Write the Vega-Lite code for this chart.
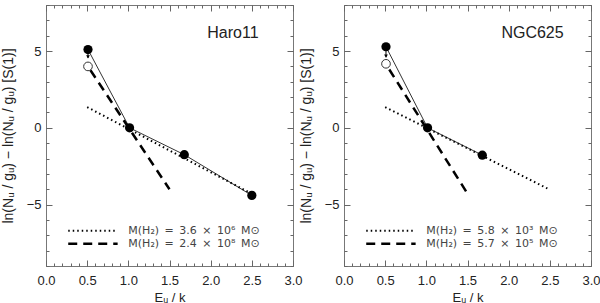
{
  "$schema": "https://vega.github.io/schema/vega-lite/v6.json",
  "padding": {"left": 0, "top": 4, "right": 0, "bottom": 0},
  "bounds": "flush",
  "spacing": 51,
  "datasets": {
    "pts": [
      {"g": "Haro11", "x": 0.51, "y": 5.1, "k": "filled"},
      {"g": "Haro11", "x": 1.015, "y": 0, "k": "filled"},
      {"g": "Haro11", "x": 1.68, "y": -1.75, "k": "filled"},
      {"g": "Haro11", "x": 2.5, "y": -4.4, "k": "filled"},
      {"g": "Haro11", "x": 0.51, "y": 4.0, "k": "open"},
      {"g": "NGC625", "x": 0.51, "y": 5.28, "k": "filled"},
      {"g": "NGC625", "x": 1.015, "y": 0, "k": "filled"},
      {"g": "NGC625", "x": 1.68, "y": -1.78, "k": "filled"},
      {"g": "NGC625", "x": 0.51, "y": 4.17, "k": "open"}
    ],
    "fits": [
      {"g": "Haro11", "f": "dotted", "s": "fit", "x": 0.5, "y": 1.35},
      {"g": "Haro11", "f": "dotted", "s": "fit", "x": 2.5, "y": -4.3},
      {"g": "Haro11", "f": "dashed", "s": "fit", "x": 0.54, "y": 3.75},
      {"g": "Haro11", "f": "dashed", "s": "fit", "x": 1.5, "y": -4.0},
      {"g": "Haro11", "f": "dotted", "s": "leg", "x": 0.27, "y": -6.7},
      {"g": "Haro11", "f": "dotted", "s": "leg", "x": 0.87, "y": -6.7},
      {"g": "Haro11", "f": "dashed", "s": "leg", "x": 0.27, "y": -7.55},
      {"g": "Haro11", "f": "dashed", "s": "leg", "x": 0.87, "y": -7.55},
      {"g": "NGC625", "f": "dotted", "s": "fit", "x": 0.5, "y": 1.35},
      {"g": "NGC625", "f": "dotted", "s": "fit", "x": 2.47, "y": -3.95},
      {"g": "NGC625", "f": "dashed", "s": "fit", "x": 0.55, "y": 3.8},
      {"g": "NGC625", "f": "dashed", "s": "fit", "x": 1.49, "y": -4.2},
      {"g": "NGC625", "f": "dotted", "s": "leg", "x": 0.27, "y": -6.7},
      {"g": "NGC625", "f": "dotted", "s": "leg", "x": 0.87, "y": -6.7},
      {"g": "NGC625", "f": "dashed", "s": "leg", "x": 0.27, "y": -7.55},
      {"g": "NGC625", "f": "dashed", "s": "leg", "x": 0.87, "y": -7.55}
    ],
    "arrows": [
      {"g": "Haro11", "x": 0.51, "y": 5.1, "y2": 4.55, "yh": 4.62},
      {"g": "NGC625", "x": 0.51, "y": 5.28, "y2": 4.6, "yh": 4.67}
    ],
    "texts": [
      {"g": "Haro11", "x": 1.0, "y": -6.7, "t": "M(H\u2082)\u2002=\u20023.6\u2002\u00d7\u200210\u2076\u2002M\u2299"},
      {"g": "Haro11", "x": 1.0, "y": -7.55, "t": "M(H\u2082)\u2002=\u20022.4\u2002\u00d7\u200210\u2078\u2002M\u2299"},
      {"g": "NGC625", "x": 1.0, "y": -6.7, "t": "M(H\u2082)\u2002=\u20025.8\u2002\u00d7\u200210\u00b3\u2002M\u2299"},
      {"g": "NGC625", "x": 1.0, "y": -7.55, "t": "M(H\u2082)\u2002=\u20025.7\u2002\u00d7\u200210\u2075\u2002M\u2299"}
    ],
    "names": [
      {"g": "Haro11", "x": 2.27, "y": 6.2, "t": "Haro11"},
      {"g": "NGC625", "x": 2.29, "y": 6.2, "t": "NGC625"}
    ]
  },
  "hconcat": [
    {
      "width": 247, "height": 261,
      "layer": [
        {"data": {"name": "pts"}, "transform": [{"filter": "datum.g === 'Haro11' && datum.k === 'filled'"}],
         "mark": {"type": "line", "color": "#333", "strokeWidth": 1},
         "encoding": {
           "x": {"field": "x", "type": "quantitative", "scale": {"domain": [0, 3], "nice": false, "zero": false},
                 "axis": {"orient": "bottom", "values": [0, 0.5, 1, 1.5, 2, 2.5, 3], "format": ".1f", "ticks": false, "domain": false, "labelPadding": 8, "labelFlush": false, "title": "Eᵤ / k", "titlePadding": 4}},
           "y": {"field": "y", "type": "quantitative", "scale": {"domain": [-9, 8], "nice": false, "zero": false},
                 "axis": {"orient": "left", "values": [-5, 0, 5], "format": "d", "ticks": false, "domain": false, "labelPadding": 5, "labelFlush": false, "title": "ln(Nᵤ / gᵤ) − ln(Nᵤ / gᵤ) [S(1)]", "titlePadding": 11, "titleFontSize": 14}}
         }},
        {"data": {"name": "pts"}, "transform": [{"filter": "datum.g === 'Haro11' && datum.k === 'filled'"}],
         "mark": {"type": "circle", "color": "#000", "opacity": 1, "size": 85},
         "encoding": {
           "x": {"field": "x", "type": "quantitative", "axis": {"orient": "bottom", "values": [0, 0.5, 1, 1.5, 2, 2.5, 3], "labels": false, "ticks": true, "tickSize": 6, "offset": -6, "domain": false, "title": null}},
           "y": {"field": "y", "type": "quantitative", "axis": {"orient": "left", "values": [-5, 0, 5], "labels": false, "ticks": true, "tickSize": 6, "offset": -6, "domain": false, "title": null}}
         }},
        {"data": {"name": "pts"}, "transform": [{"filter": "datum.g === 'Haro11' && datum.k === 'open'"}],
         "mark": {"type": "point", "shape": "circle", "color": "#333", "filled": false, "strokeWidth": 1, "size": 75, "opacity": 1},
         "encoding": {
           "x": {"field": "x", "type": "quantitative", "axis": {"orient": "bottom", "values": [0,0.1,0.2,0.3,0.4,0.5,0.6,0.7,0.8,0.9,1,1.1,1.2,1.3,1.4,1.5,1.6,1.7,1.8,1.9,2,2.1,2.2,2.3,2.4,2.5,2.6,2.7,2.8,2.9,3], "labels": false, "ticks": true, "tickSize": 3, "offset": -3, "domain": false, "title": null}},
           "y": {"field": "y", "type": "quantitative", "axis": {"orient": "left", "values": [-9,-8,-7,-6,-5,-4,-3,-2,-1,0,1,2,3,4,5,6,7,8], "labels": false, "ticks": true, "tickSize": 3, "offset": -3, "domain": false, "title": null}}
         }},
        {"data": {"name": "fits"}, "transform": [{"filter": "datum.g === 'Haro11' && datum.f === 'dotted'"}],
         "mark": {"type": "line", "color": "#000", "strokeWidth": 2, "strokeDash": [1.5, 3]},
         "encoding": {
           "x": {"field": "x", "type": "quantitative", "axis": {"orient": "top", "values": [0, 0.5, 1, 1.5, 2, 2.5, 3], "labels": false, "ticks": true, "tickSize": 6, "offset": -6, "domain": false, "title": null}},
           "y": {"field": "y", "type": "quantitative", "axis": {"orient": "right", "values": [-5, 0, 5], "labels": false, "ticks": true, "tickSize": 6, "offset": -6, "domain": false, "title": null}},
           "detail": {"field": "s"}
         }},
        {"data": {"name": "fits"}, "transform": [{"filter": "datum.g === 'Haro11' && datum.f === 'dashed'"}],
         "mark": {"type": "line", "color": "#000", "strokeWidth": 2.5, "strokeDash": [9, 6]},
         "encoding": {
           "x": {"field": "x", "type": "quantitative", "axis": {"orient": "top", "values": [0,0.1,0.2,0.3,0.4,0.5,0.6,0.7,0.8,0.9,1,1.1,1.2,1.3,1.4,1.5,1.6,1.7,1.8,1.9,2,2.1,2.2,2.3,2.4,2.5,2.6,2.7,2.8,2.9,3], "labels": false, "ticks": true, "tickSize": 3, "offset": -3, "domain": false, "title": null}},
           "y": {"field": "y", "type": "quantitative", "axis": {"orient": "right", "values": [-9,-8,-7,-6,-5,-4,-3,-2,-1,0,1,2,3,4,5,6,7,8], "labels": false, "ticks": true, "tickSize": 3, "offset": -3, "domain": false, "title": null}},
           "detail": {"field": "s"}
         }},
        {"data": {"name": "arrows"}, "transform": [{"filter": "datum.g === 'Haro11'"}],
         "mark": {"type": "rule", "color": "#000", "strokeWidth": 1},
         "encoding": {
           "x": {"field": "x", "type": "quantitative", "axis": null},
           "y": {"field": "y", "type": "quantitative", "axis": null},
           "y2": {"field": "y2"}
         }},
        {"data": {"name": "arrows"}, "transform": [{"filter": "datum.g === 'Haro11'"}],
         "mark": {"type": "point", "shape": "triangle-down", "filled": true, "color": "#000", "size": 14, "opacity": 1},
         "encoding": {
           "x": {"field": "x", "type": "quantitative", "axis": null},
           "y": {"field": "yh", "type": "quantitative", "axis": null}
         }},
        {"data": {"name": "texts"}, "transform": [{"filter": "datum.g === 'Haro11'"}],
         "mark": {"type": "text", "align": "left", "baseline": "middle", "fontSize": 11, "font": "DejaVu Sans", "color": "#444"},
         "encoding": {
           "x": {"field": "x", "type": "quantitative", "axis": null},
           "y": {"field": "y", "type": "quantitative", "axis": null},
           "text": {"field": "t"}
         }},
        {"data": {"name": "names"}, "transform": [{"filter": "datum.g === 'Haro11'"}],
         "mark": {"type": "text", "align": "center", "baseline": "middle", "fontSize": 16, "color": "#222"},
         "encoding": {
           "x": {"field": "x", "type": "quantitative", "axis": null},
           "y": {"field": "y", "type": "quantitative", "axis": null},
           "text": {"field": "t"}
         }}
      ],
      "resolve": {"axis": {"x": "independent", "y": "independent"}}
    },
    {
      "width": 247, "height": 261,
      "layer": [
        {"data": {"name": "pts"}, "transform": [{"filter": "datum.g === 'NGC625' && datum.k === 'filled'"}],
         "mark": {"type": "line", "color": "#333", "strokeWidth": 1},
         "encoding": {
           "x": {"field": "x", "type": "quantitative", "scale": {"domain": [0, 3], "nice": false, "zero": false},
                 "axis": {"orient": "bottom", "values": [0, 0.5, 1, 1.5, 2, 2.5, 3], "format": ".1f", "ticks": false, "domain": false, "labelPadding": 8, "labelFlush": false, "title": "Eᵤ / k", "titlePadding": 4}},
           "y": {"field": "y", "type": "quantitative", "scale": {"domain": [-9, 8], "nice": false, "zero": false},
                 "axis": {"orient": "left", "values": [-5, 0, 5], "format": "d", "ticks": false, "domain": false, "labelPadding": 5, "labelFlush": false, "title": "ln(Nᵤ / gᵤ) − ln(Nᵤ / gᵤ) [S(1)]", "titlePadding": 11, "titleFontSize": 14}}
         }},
        {"data": {"name": "pts"}, "transform": [{"filter": "datum.g === 'NGC625' && datum.k === 'filled'"}],
         "mark": {"type": "circle", "color": "#000", "opacity": 1, "size": 85},
         "encoding": {
           "x": {"field": "x", "type": "quantitative", "axis": {"orient": "bottom", "values": [0, 0.5, 1, 1.5, 2, 2.5, 3], "labels": false, "ticks": true, "tickSize": 6, "offset": -6, "domain": false, "title": null}},
           "y": {"field": "y", "type": "quantitative", "axis": {"orient": "left", "values": [-5, 0, 5], "labels": false, "ticks": true, "tickSize": 6, "offset": -6, "domain": false, "title": null}}
         }},
        {"data": {"name": "pts"}, "transform": [{"filter": "datum.g === 'NGC625' && datum.k === 'open'"}],
         "mark": {"type": "point", "shape": "circle", "color": "#333", "filled": false, "strokeWidth": 1, "size": 75, "opacity": 1},
         "encoding": {
           "x": {"field": "x", "type": "quantitative", "axis": {"orient": "bottom", "values": [0,0.1,0.2,0.3,0.4,0.5,0.6,0.7,0.8,0.9,1,1.1,1.2,1.3,1.4,1.5,1.6,1.7,1.8,1.9,2,2.1,2.2,2.3,2.4,2.5,2.6,2.7,2.8,2.9,3], "labels": false, "ticks": true, "tickSize": 3, "offset": -3, "domain": false, "title": null}},
           "y": {"field": "y", "type": "quantitative", "axis": {"orient": "left", "values": [-9,-8,-7,-6,-5,-4,-3,-2,-1,0,1,2,3,4,5,6,7,8], "labels": false, "ticks": true, "tickSize": 3, "offset": -3, "domain": false, "title": null}}
         }},
        {"data": {"name": "fits"}, "transform": [{"filter": "datum.g === 'NGC625' && datum.f === 'dotted'"}],
         "mark": {"type": "line", "color": "#000", "strokeWidth": 2, "strokeDash": [1.5, 3]},
         "encoding": {
           "x": {"field": "x", "type": "quantitative", "axis": {"orient": "top", "values": [0, 0.5, 1, 1.5, 2, 2.5, 3], "labels": false, "ticks": true, "tickSize": 6, "offset": -6, "domain": false, "title": null}},
           "y": {"field": "y", "type": "quantitative", "axis": {"orient": "right", "values": [-5, 0, 5], "labels": false, "ticks": true, "tickSize": 6, "offset": -6, "domain": false, "title": null}},
           "detail": {"field": "s"}
         }},
        {"data": {"name": "fits"}, "transform": [{"filter": "datum.g === 'NGC625' && datum.f === 'dashed'"}],
         "mark": {"type": "line", "color": "#000", "strokeWidth": 2.5, "strokeDash": [9, 6]},
         "encoding": {
           "x": {"field": "x", "type": "quantitative", "axis": {"orient": "top", "values": [0,0.1,0.2,0.3,0.4,0.5,0.6,0.7,0.8,0.9,1,1.1,1.2,1.3,1.4,1.5,1.6,1.7,1.8,1.9,2,2.1,2.2,2.3,2.4,2.5,2.6,2.7,2.8,2.9,3], "labels": false, "ticks": true, "tickSize": 3, "offset": -3, "domain": false, "title": null}},
           "y": {"field": "y", "type": "quantitative", "axis": {"orient": "right", "values": [-9,-8,-7,-6,-5,-4,-3,-2,-1,0,1,2,3,4,5,6,7,8], "labels": false, "ticks": true, "tickSize": 3, "offset": -3, "domain": false, "title": null}},
           "detail": {"field": "s"}
         }},
        {"data": {"name": "arrows"}, "transform": [{"filter": "datum.g === 'NGC625'"}],
         "mark": {"type": "rule", "color": "#000", "strokeWidth": 1},
         "encoding": {
           "x": {"field": "x", "type": "quantitative", "axis": null},
           "y": {"field": "y", "type": "quantitative", "axis": null},
           "y2": {"field": "y2"}
         }},
        {"data": {"name": "arrows"}, "transform": [{"filter": "datum.g === 'NGC625'"}],
         "mark": {"type": "point", "shape": "triangle-down", "filled": true, "color": "#000", "size": 14, "opacity": 1},
         "encoding": {
           "x": {"field": "x", "type": "quantitative", "axis": null},
           "y": {"field": "yh", "type": "quantitative", "axis": null}
         }},
        {"data": {"name": "texts"}, "transform": [{"filter": "datum.g === 'NGC625'"}],
         "mark": {"type": "text", "align": "left", "baseline": "middle", "fontSize": 11, "font": "DejaVu Sans", "color": "#444"},
         "encoding": {
           "x": {"field": "x", "type": "quantitative", "axis": null},
           "y": {"field": "y", "type": "quantitative", "axis": null},
           "text": {"field": "t"}
         }},
        {"data": {"name": "names"}, "transform": [{"filter": "datum.g === 'NGC625'"}],
         "mark": {"type": "text", "align": "center", "baseline": "middle", "fontSize": 16, "color": "#222"},
         "encoding": {
           "x": {"field": "x", "type": "quantitative", "axis": null},
           "y": {"field": "y", "type": "quantitative", "axis": null},
           "text": {"field": "t"}
         }}
      ],
      "resolve": {"axis": {"x": "independent", "y": "independent"}}
    }
  ],
  "config": {
    "font": "Liberation Sans",
    "view": {"stroke": "#777", "strokeWidth": 1},
    "axis": {"grid": false, "tickColor": "#666", "labelColor": "#222", "titleColor": "#222", "titleFontWeight": "normal", "labelFontSize": 13, "titleFontSize": 13, "labelOverlap": false}
  }
}
